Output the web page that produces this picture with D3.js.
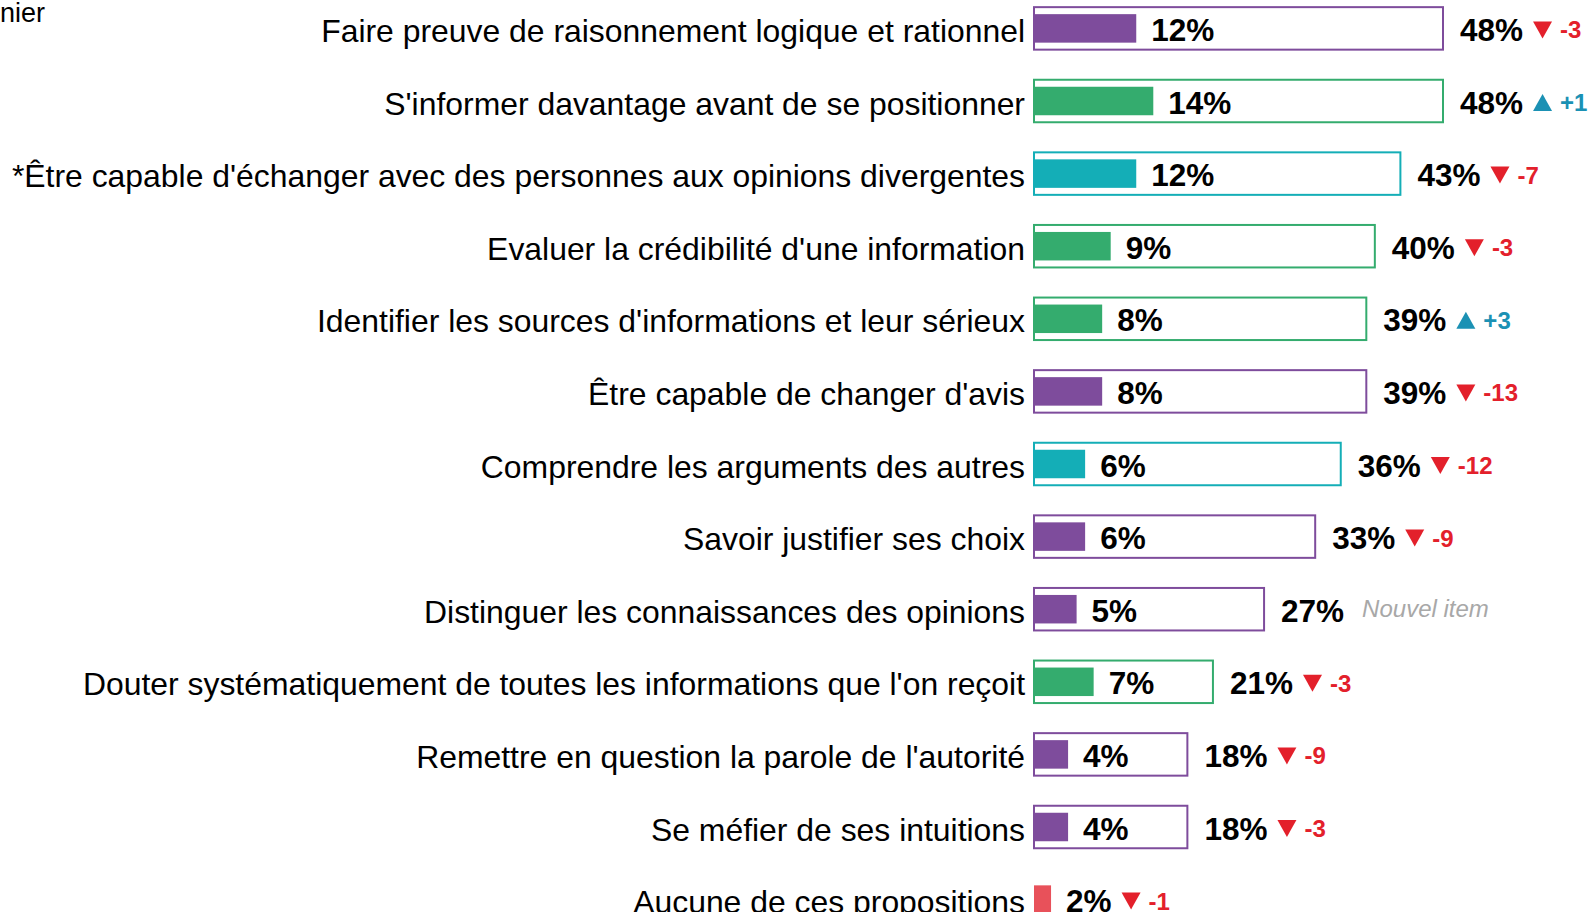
<!DOCTYPE html>
<html>
<head>
<meta charset="utf-8">
<script src="https://cdn.jsdelivr.net/npm/d3@7"></script>
<style>
  html, body { margin: 0; padding: 0; background: #ffffff; }
  svg { display: block; }
  text { font-family: Arial, "Liberation Sans", sans-serif; }
</style>
</head>
<body>
<div id="chart"></div>
<script>
// Compétences citées : en premier (barre pleine) et au total (cadre), évolution en points
const categories = [
  "Faire preuve de raisonnement logique et rationnel",
  "S'informer davantage avant de se positionner",
  "*Être capable d'échanger avec des personnes aux opinions divergentes",
  "Evaluer la crédibilité d'une information",
  "Identifier les sources d'informations et leur sérieux",
  "Être capable de changer d'avis",
  "Comprendre les arguments des autres",
  "Savoir justifier ses choix",
  "Distinguer les connaissances des opinions",
  "Douter systématiquement de toutes les informations que l'on reçoit",
  "Remettre en question la parole de l'autorité",
  "Se méfier de ses intuitions",
  "Aucune de ces propositions"
];
const enPremier = [12, 14, 12, 9, 8, 8, 6, 6, 5, 7, 4, 4, 2];
const auTotal   = [48, 48, 43, 40, 39, 39, 36, 33, 27, 21, 18, 18, null];
const evolution = [-3, 1, -7, -3, 3, -13, -12, -9, null, -3, -9, -3, -1];
const familles  = ["raisonnement", "information", "dialogue", "information", "information",
                   "raisonnement", "dialogue", "raisonnement", "raisonnement", "information",
                   "raisonnement", "raisonnement", "aucune"];
const nouvelItem = "Nouvel item";
const enteteTexte = "Dernier";

const W = 1588, H = 912;
const couleur = d3.scaleOrdinal()
  .domain(["raisonnement", "information", "dialogue", "aucune"])
  .range(["#7e4c9c", "#34ac6e", "#14aeb7", "#e8515a"]);
const ROUGE = "#e3202b", BLEU = "#1b91b4";

const rows = categories.map((c, i) => ({
  cat: c, premier: enPremier[i], total: auTotal[i], evo: evolution[i], fam: familles[i]
}));

const svg = d3.select("#chart").append("svg")
  .attr("width", W).attr("height", H);
svg.append("rect").attr("width", W).attr("height", H).attr("fill", "#fff");

const x = d3.scaleLinear().domain([0, 48]).range([1034, 1443]);
const y = d3.scalePoint().domain(categories).range([28.4, 899.6]);

const OUT_H = 42.5, IN_H = 28.5;
const FS_LABEL = 31.9, FS_NUM = 31.5;

// texte d'en-tête partiellement hors cadre
svg.append("text")
  .attr("x", 45).attr("y", 22)
  .attr("text-anchor", "end")
  .attr("font-size", 27)
  .attr("fill", "#000")
  .text(enteteTexte);

const g = svg.selectAll("g.row").data(rows).join("g").attr("class", "row");

// libellés
g.append("text")
  .attr("x", 1025)
  .attr("y", d => y(d.cat) + 13.5)
  .attr("text-anchor", "end")
  .attr("font-size", FS_LABEL)
  .attr("fill", "#000")
  .text(d => d.cat);

// cadre : total
g.filter(d => d.total != null).append("rect")
  .attr("x", x(0))
  .attr("y", d => y(d.cat) - OUT_H / 2)
  .attr("width", d => x(d.total) - x(0))
  .attr("height", OUT_H)
  .attr("fill", "#fff")
  .attr("stroke", d => couleur(d.fam))
  .attr("stroke-width", 2);

// barre pleine : en premier
g.append("rect")
  .attr("x", x(0))
  .attr("y", d => y(d.cat) - IN_H / 2)
  .attr("width", d => x(d.premier) - x(0))
  .attr("height", IN_H)
  .attr("fill", d => couleur(d.fam));

// valeur en premier
const lblPremier = g.append("text")
  .attr("x", d => x(d.premier) + 15)
  .attr("y", d => y(d.cat) + 12.5)
  .attr("font-size", FS_NUM)
  .attr("font-weight", "bold")
  .attr("fill", "#000")
  .text(d => d.premier + "%");

// valeur totale
const lblTotal = g.filter(d => d.total != null).append("text")
  .attr("x", d => x(d.total) + 17)
  .attr("y", d => y(d.cat) + 12.5)
  .attr("font-size", FS_NUM)
  .attr("font-weight", "bold")
  .attr("fill", "#000")
  .text(d => d.total + "%");

// fin du dernier texte de chaque ligne
const finTexte = new Map();
lblPremier.each(function(d) {
  finTexte.set(d.cat, +this.getAttribute("x") + this.getComputedTextLength());
});
lblTotal.each(function(d) {
  finTexte.set(d.cat, +this.getAttribute("x") + this.getComputedTextLength());
});

// évolution : triangle + écart en points
const evo = g.filter(d => d.evo != null);
const TW = 19, TH = 17;
evo.append("path")
  .attr("d", d => {
    const x0 = finTexte.get(d.cat) + 10;
    const cy = y(d.cat) + 1.5;
    if (d.evo < 0) {
      return `M${x0},${cy - TH / 2}L${x0 + TW},${cy - TH / 2}L${x0 + TW / 2},${cy + TH / 2}Z`;
    }
    return `M${x0},${cy + TH / 2}L${x0 + TW},${cy + TH / 2}L${x0 + TW / 2},${cy - TH / 2}Z`;
  })
  .attr("fill", d => d.evo < 0 ? ROUGE : BLEU);

evo.append("text")
  .attr("x", d => finTexte.get(d.cat) + 10 + TW + 8)
  .attr("y", d => y(d.cat) + 10)
  .attr("font-size", 24)
  .attr("font-weight", "bold")
  .attr("fill", d => d.evo < 0 ? ROUGE : BLEU)
  .text(d => (d.evo > 0 ? "+" : "") + d.evo);

// nouvel item
g.filter(d => d.evo == null).append("text")
  .attr("x", d => finTexte.get(d.cat) + 18)
  .attr("y", d => y(d.cat) + 8)
  .attr("font-size", 24)
  .attr("font-style", "italic")
  .attr("fill", "#a8a8a8")
  .text(nouvelItem);
</script>
</body>
</html>
